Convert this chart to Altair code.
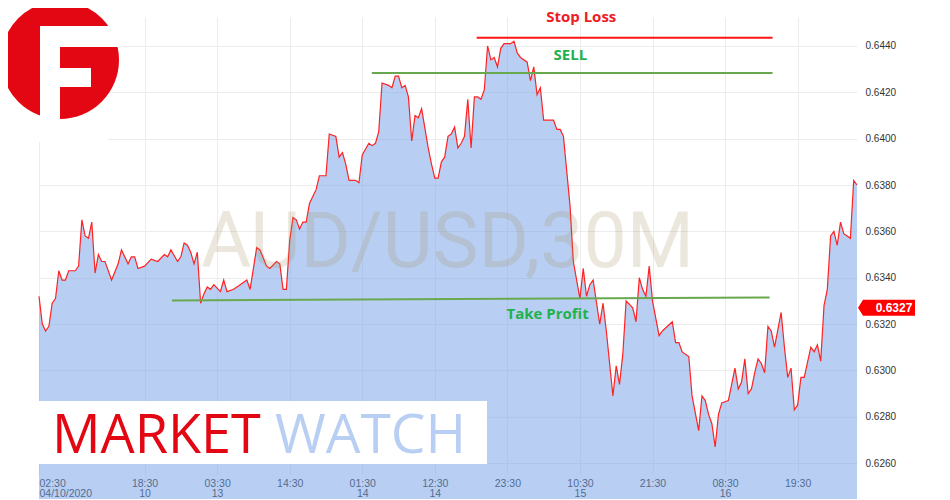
import altair as alt
import pandas as pd

# ---- price series (30-minute bars, bar index from the first bar) ----
bar_index = [0, 1, 2, 3, 4, 5, 6, 7, 8, 9, 11, 12, 13, 14, 15, 16, 17, 18, 19, 20,
             22, 24, 25, 27, 28, 29, 30, 32, 34, 36, 38, 39, 40, 42, 43, 44, 45, 46, 47, 48,
             49, 50, 51, 52, 53, 55, 56, 57, 59, 61, 63, 64, 66, 67, 69, 70, 72, 73, 74, 75,
             76, 77, 78, 79, 80, 81, 82, 84, 85, 87, 88, 90, 91, 92, 93, 94, 96, 97, 98, 100,
             101, 102, 103, 104, 106, 107, 108, 109, 110, 111, 112, 113, 114, 115, 116, 118, 119, 120, 121, 122,
             123, 124, 125, 126, 127, 128, 129, 130, 131, 132, 133, 134, 135, 136, 137, 138, 139, 140, 141, 143,
             144, 145, 146, 148, 149, 150, 151, 152, 153, 155, 156, 157, 158, 159, 161, 162, 164, 165, 166, 167,
             168, 170, 171, 172, 174, 175, 176, 177, 178, 180, 181, 182, 183, 184, 185, 186, 188, 189, 192, 193,
             194, 195, 197, 198, 200, 201, 202, 203, 204, 205, 206, 207, 209, 211, 212, 213, 214, 215, 216, 217,
             218, 219, 220, 221, 222, 223, 225, 226, 227, 228, 229, 230, 231, 232, 234, 235, 236, 237, 238, 239,
             240, 241, 242, 243, 244, 245, 246, 247, 248]
price = [0.6332, 0.6320, 0.6317, 0.6319, 0.6329, 0.6331, 0.6343, 0.6339, 0.6339, 0.6343, 0.6343, 0.6345, 0.6365, 0.6358, 0.6357, 0.6364, 0.6342, 0.6350, 0.6347, 0.6347,
         0.6339, 0.6346, 0.6352, 0.6346, 0.6349, 0.6349, 0.6344, 0.6345, 0.6348, 0.6347, 0.6350, 0.6349, 0.6352, 0.6347, 0.6349, 0.6355, 0.6354, 0.6351, 0.6346, 0.6351,
         0.6329, 0.6333, 0.6336, 0.6335, 0.6337, 0.6334, 0.6339, 0.6334, 0.6335, 0.6337, 0.6339, 0.6335, 0.6353, 0.6352, 0.6345, 0.6344, 0.6347, 0.6346, 0.6335, 0.6335,
         0.6356, 0.6366, 0.6365, 0.6361, 0.6364, 0.6364, 0.6372, 0.6378, 0.6384, 0.6384, 0.6402, 0.6401, 0.6392, 0.6394, 0.6389, 0.6382, 0.6382, 0.6381, 0.6393, 0.6398,
         0.6397, 0.6398, 0.6403, 0.6424, 0.6423, 0.6422, 0.6427, 0.6427, 0.6422, 0.6423, 0.6418, 0.6399, 0.6410, 0.6409, 0.6413, 0.6396, 0.6389, 0.6383, 0.6383, 0.6390,
         0.6392, 0.6401, 0.6402, 0.6405, 0.6396, 0.6398, 0.6401, 0.6417, 0.6396, 0.6418, 0.6418, 0.6417, 0.6421, 0.6440, 0.6434, 0.6435, 0.6431, 0.6439, 0.6441, 0.6441,
         0.6442, 0.6437, 0.6435, 0.6433, 0.6425, 0.6431, 0.6419, 0.6422, 0.6408, 0.6408, 0.6408, 0.6404, 0.6404, 0.6401, 0.6371, 0.6347, 0.6331, 0.6344, 0.6332, 0.6337,
         0.6339, 0.6320, 0.6329, 0.6317, 0.6289, 0.6302, 0.6294, 0.6307, 0.6330, 0.6327, 0.6321, 0.6340, 0.6335, 0.6332, 0.6345, 0.6330, 0.6315, 0.6317, 0.6321, 0.6312,
         0.6312, 0.6308, 0.6306, 0.6289, 0.6274, 0.6289, 0.6287, 0.6281, 0.6277, 0.6267, 0.6281, 0.6286, 0.6287, 0.6301, 0.6292, 0.6295, 0.6305, 0.6290, 0.6292, 0.6299,
         0.6305, 0.6303, 0.6299, 0.6319, 0.6317, 0.6310, 0.6325, 0.6310, 0.6297, 0.6301, 0.6283, 0.6285, 0.6297, 0.6297, 0.6310, 0.6308, 0.6311, 0.6304, 0.6328, 0.6335,
         0.6358, 0.6360, 0.6354, 0.6364, 0.6359, 0.6358, 0.6357, 0.6382, 0.6380]

# ---- axis ticks ----
tick_index = [0, 32, 54, 76, 98, 120, 142, 164, 186, 208, 230]
tick_time = ["02:30", "18:30", "03:30", "14:30", "01:30", "12:30", "23:30", "10:30", "21:30", "08:30", "19:30"]
tick_date = ["04/10/2020", "10", "13", "", "14", "14", "", "15", "", "16", ""]
price_ticks = [0.6260, 0.6280, 0.6300, 0.6320, 0.6340, 0.6360, 0.6380, 0.6400, 0.6420, 0.6440]

# ---- trade levels ----
level_names = ["Stop Loss", "SELL", "Take Profit"]
level_from = [132.7, 100.9, 40.3]
level_to = [222.4, 222.4, 221.5]
level_price_from = [0.64435, 0.64283, 0.63302]
level_price_to = [0.64435, 0.64283, 0.63315]
label_at = [164.4, 161.1, 154.2]
label_price = [0.64523, 0.64362, 0.63243]

last_price = [0.6327]

# ---------------------------------------------------------------
series = pd.DataFrame({"i": bar_index, "p": price})
levels = pd.DataFrame({"name": level_names, "x": level_from, "x2": level_to,
                       "y": level_price_from, "y2": level_price_to})
labels = pd.DataFrame({"name": level_names, "x": label_at, "y": label_price})
tag = pd.DataFrame({"p": last_price})
one = pd.DataFrame({"a": [0]})

tick_labels = [t if d == "" else t + "|" + d for t, d in zip(tick_time, tick_date)]
label_expr = "split([" + ",".join("'" + s + "'" for s in tick_labels) + "][indexof([" + \
    ",".join(str(v) for v in tick_index) + "], datum.value)], '|')"

xscale = alt.Scale(domain=[0, 248], nice=False, zero=False)
yscale = alt.Scale(domain=[0.62553, 0.64525], nice=False, zero=False)

x_axis = alt.Axis(values=tick_index, labelExpr=label_expr, grid=True, gridColor="#ececec",
                  ticks=False, domain=False, labelFont="Liberation Sans", labelFontSize=10.5,
                  labelColor="#333333", labelPadding=4, labelLineHeight=10, labelFlush=True,
                  labelOverlap=False, title=None)
y_axis = alt.Axis(orient="right", values=price_ticks, format=".4f", grid=True, gridColor="#ececec",
                  ticks=False, domain=False, labelFont="Liberation Sans", labelFontSize=10,
                  labelColor="#333333", labelPadding=8, labelOverlap=False, title=None)

area = alt.Chart(series).mark_area(color="#719fe7", opacity=0.5).encode(
    x=alt.X("i:Q", scale=xscale, axis=x_axis),
    y=alt.Y("p:Q", scale=yscale, axis=y_axis),
)
line = alt.Chart(series).mark_line(color="#ff2222", strokeWidth=1.2).encode(
    x=alt.X("i:Q", scale=xscale), y=alt.Y("p:Q", scale=yscale)
)

watermark = alt.Chart(one).mark_text(
    text="AUD/USD,30M", font="Roboto", fontSize=77, color="#a08c5a", opacity=0.2,
    align="center", baseline="alphabetic"
).encode(x=alt.value(408.5), y=alt.value(250))

rules = alt.Chart(levels).mark_rule(strokeWidth=2).encode(
    x=alt.X("x:Q", scale=xscale), x2="x2:Q",
    y=alt.Y("y:Q", scale=yscale), y2="y2:Q",
    color=alt.Color("name:N", scale=alt.Scale(domain=level_names,
                    range=["#ff1414", "#6aa84f", "#6aa84f"]), legend=None),
)
level_text = alt.Chart(labels).mark_text(
    font="Open Sans", fontSize=15, fontWeight="bold", align="center", baseline="middle"
).encode(
    x=alt.X("x:Q", scale=xscale), y=alt.Y("y:Q", scale=yscale), text="name:N",
    color=alt.Color("name:N", scale=alt.Scale(domain=level_names,
                    range=["#ee1c25", "#22b14c", "#22b14c"]), legend=None),
)

# logo (top left)
logo_bg = alt.Chart(one).mark_rect(color="white").encode(
    x=alt.value(-31), x2=alt.value(69), y=alt.value(-9), y2=alt.value(125))
logo_circle = alt.Chart(one).mark_point(shape="circle", size=13924, filled=True,
                                        color="#e30613", opacity=1).encode(
    x=alt.value(21), y=alt.value(43))
logo_stem = alt.Chart(one).mark_rect(color="white").encode(
    x=alt.value(1), x2=alt.value(21), y=alt.value(9), y2=alt.value(108))
logo_top = alt.Chart(one).mark_rect(color="white").encode(
    x=alt.value(1), x2=alt.value(82), y=alt.value(9), y2=alt.value(30))
logo_mid = alt.Chart(one).mark_rect(color="white").encode(
    x=alt.value(21), x2=alt.value(52), y=alt.value(51), y2=alt.value(70))

# MARKET WATCH banner
banner = alt.Chart(one).mark_rect(color="white").encode(
    x=alt.value(0), x2=alt.value(448), y=alt.value(384), y2=alt.value(447))
market = alt.Chart(one).mark_text(text="MARKET", font="Open Sans", fontSize=54,
                                  color="#e30613", align="left", baseline="alphabetic").encode(
    x=alt.value(13), y=alt.value(436))
watch = alt.Chart(one).mark_text(text="WATCH", font="Open Sans", fontSize=55,
                                 color="#b8cff3", align="left", baseline="alphabetic").encode(
    x=alt.value(236), y=alt.value(436))

# last price tag
tag_shape = alt.Chart(tag).mark_point(shape="M0,0L5,-8L57,-8L57,8L5,8Z", size=4, filled=True,
                                      color="#ff0000", opacity=1, strokeWidth=0).encode(
    x=alt.value(819), y=alt.Y("p:Q", scale=yscale))
tag_text = alt.Chart(tag).mark_text(font="Liberation Sans", fontSize=12, fontWeight="bold",
                                    color="white", align="center", baseline="middle").encode(
    x=alt.value(855), y=alt.Y("p:Q", scale=yscale), text=alt.Text("p:Q", format=".4f"))

chart = alt.layer(
    area, line, watermark, rules, level_text,
    logo_bg, logo_circle, logo_stem, logo_top, logo_mid,
    banner, market, watch, tag_shape, tag_text
).resolve_scale(color="independent").properties(
    width=818, height=457,
    autosize=alt.AutoSizeParams(type="none"),
    padding={"left": 31, "top": 9, "right": 70, "bottom": 25},
    background="white",
).configure_view(stroke=None)

chart.save("out.html", embed_options={"renderer": "svg", "actions": False})
